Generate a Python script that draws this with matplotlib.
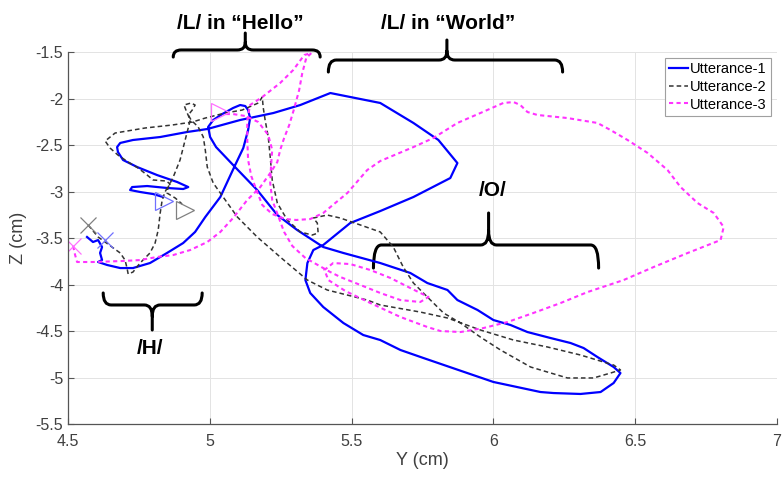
import matplotlib.pyplot as plt
from matplotlib.path import Path
from matplotlib.patches import PathPatch

plt.rcParams['font.family'] = ['Liberation Sans', 'DejaVu Sans']

# ------------------------------------------------------------------
# Tongue-tip trajectories (Y, Z in cm)
# ------------------------------------------------------------------
# Utterance-1 (blue, solid)
utt1_y = [4.567, 4.588, 4.606, 4.620, 4.613, 4.620, 4.606, 4.638, 4.684, 4.729,
          4.789, 4.849, 4.906, 4.948, 4.984, 5.037, 5.086, 5.118, 5.135, 5.142,
          5.135, 5.125, 5.107, 5.082, 5.044, 5.012, 4.994, 5.001, 5.022, 5.089,
          5.167, 5.238, 5.308, 5.400, 5.471, 5.601, 5.707, 5.767, 5.838, 5.873,
          5.944, 6.000, 6.060, 6.120, 6.201, 6.272, 6.318, 6.367, 6.424, 6.448,
          6.424, 6.378, 6.307, 6.212, 6.166, 6.000, 5.908, 5.753, 5.672, 5.601,
          5.541, 5.471, 5.400, 5.354, 5.337, 5.344, 5.365, 5.400, 5.495, 5.601,
          5.718, 5.848, 5.873, 5.806, 5.718, 5.601, 5.425, 5.319, 5.224, 5.107,
          4.991, 4.920, 4.825, 4.729, 4.684, 4.673, 4.676, 4.694, 4.744, 4.814,
          4.885, 4.924, 4.906, 4.849, 4.779, 4.726, 4.719, 4.754, 4.800, 4.835]
utt1_z = [-3.489, -3.543, -3.522, -3.597, -3.661, -3.737, -3.758, -3.790, -3.823, -3.823,
          -3.769, -3.661, -3.554, -3.435, -3.274, -3.059, -2.737, -2.532, -2.339, -2.210,
          -2.124, -2.081, -2.070, -2.102, -2.167, -2.231, -2.306, -2.414, -2.522, -2.737,
          -2.984, -3.253, -3.414, -3.597, -3.661, -3.769, -3.876, -3.984, -4.059, -4.167,
          -4.274, -4.382, -4.435, -4.511, -4.575, -4.629, -4.683, -4.780, -4.887, -4.952,
          -5.059, -5.156, -5.177, -5.167, -5.156, -5.048, -4.952, -4.790, -4.704, -4.597,
          -4.543, -4.414, -4.242, -4.091, -3.952, -3.769, -3.629, -3.575, -3.339, -3.210,
          -3.059, -2.855, -2.694, -2.446, -2.263, -2.048, -1.941, -2.070, -2.156, -2.231,
          -2.328, -2.360, -2.414, -2.446, -2.478, -2.522, -2.575, -2.661, -2.737, -2.823,
          -2.898, -2.952, -2.973, -2.962, -2.941, -2.952, -2.984, -3.005, -3.027, -3.059]

# Utterance-2 (black, dashed)
utt2_y = [4.571, 4.606, 4.655, 4.684, 4.701, 4.708, 4.712, 4.729, 4.754, 4.789,
          4.807, 4.818, 4.825, 4.832, 4.842, 4.853, 4.860, 4.846, 4.800, 4.779,
          4.747, 4.712, 4.676, 4.648, 4.631, 4.666, 4.772, 4.867, 4.938, 4.984,
          5.054, 5.114, 5.171, 5.185, 5.188, 5.195, 5.206, 5.213, 5.220, 5.238,
          5.273, 5.319, 5.361, 5.382, 5.379, 5.365, 5.414, 5.460, 5.531, 5.601,
          5.647, 5.682, 5.718, 5.767, 5.824, 5.884, 5.954, 6.025, 6.131, 6.261,
          6.353, 6.413, 6.448, 6.424, 6.307, 6.191, 6.071, 5.954, 5.838, 5.742,
          5.601, 5.555, 5.414, 5.344, 5.248, 5.167, 5.097, 5.047, 5.012, 4.991,
          4.984, 4.977, 4.959, 4.934, 4.924, 4.938, 4.948, 4.934, 4.909, 4.917,
          4.931, 4.913, 4.895, 4.871, 4.853, 4.849, 4.878, 4.902]
utt2_z = [-3.360, -3.489, -3.597, -3.661, -3.737, -3.823, -3.887, -3.866, -3.769, -3.661,
          -3.554, -3.414, -3.231, -3.091, -3.005, -2.941, -2.919, -2.887, -2.876, -2.823,
          -2.747, -2.683, -2.608, -2.532, -2.457, -2.371, -2.317, -2.285, -2.253, -2.210,
          -2.156, -2.124, -2.048, -1.984, -2.091, -2.231, -2.414, -2.629, -2.876, -3.124,
          -3.306, -3.435, -3.468, -3.446, -3.339, -3.285, -3.253, -3.285, -3.360, -3.435,
          -3.597, -3.812, -3.984, -4.134, -4.306, -4.414, -4.565, -4.704, -4.887, -5.005,
          -5.005, -4.952, -4.919, -4.866, -4.758, -4.672, -4.597, -4.489, -4.360, -4.296,
          -4.220, -4.167, -4.059, -3.952, -3.704, -3.489, -3.274, -3.059, -2.909, -2.737,
          -2.554, -2.414, -2.306, -2.231, -2.177, -2.124, -2.070, -2.048, -2.070, -2.134,
          -2.231, -2.446, -2.661, -2.844, -2.952, -3.016, -3.070, -3.134]

# Utterance-3 (magenta, dotted)
utt3_y = [4.518, 4.525, 4.532, 4.588, 4.694, 4.754, 4.814, 4.871, 4.931, 4.991,
          5.037, 5.082, 5.132, 5.178, 5.213, 5.238, 5.248, 5.262, 5.280, 5.298,
          5.315, 5.326, 5.340, 5.358, 5.333, 5.294, 5.248, 5.185, 5.142, 5.132,
          5.132, 5.135, 5.146, 5.167, 5.185, 5.220, 5.266, 5.305, 5.354, 5.400,
          5.442, 5.485, 5.555, 5.601, 5.718, 5.788, 5.873, 5.954, 6.035, 6.071,
          6.095, 6.120, 6.155, 6.261, 6.367, 6.413, 6.473, 6.544, 6.614, 6.660,
          6.720, 6.777, 6.812, 6.801, 6.685, 6.565, 6.459, 6.332, 6.237, 6.141,
          6.050, 5.965, 5.884, 5.813, 5.767, 5.672, 5.566, 5.478, 5.418, 5.404,
          5.435, 5.495, 5.566, 5.637, 5.707, 5.771, 5.742, 5.672, 5.601, 5.531,
          5.460, 5.425, 5.337, 5.291, 5.262, 5.241, 5.220, 5.213, 5.216, 5.220,
          5.206, 5.171, 5.125, 5.082, 5.044]
utt3_z = [-3.586, -3.683, -3.758, -3.758, -3.747, -3.737, -3.704, -3.683, -3.629, -3.543,
          -3.435, -3.285, -3.091, -2.952, -2.801, -2.683, -2.554, -2.425, -2.285, -2.102,
          -1.909, -1.726, -1.565, -1.511, -1.532, -1.694, -1.833, -1.984, -2.070, -2.231,
          -2.446, -2.661, -2.833, -3.005, -3.145, -3.242, -3.296, -3.306, -3.296, -3.231,
          -3.124, -3.016, -2.769, -2.672, -2.522, -2.425, -2.263, -2.156, -2.048, -2.038,
          -2.070, -2.145, -2.177, -2.210, -2.263, -2.339, -2.446, -2.586, -2.769, -2.952,
          -3.124, -3.231, -3.382, -3.522, -3.661, -3.812, -3.952, -4.081, -4.199, -4.306,
          -4.403, -4.468, -4.511, -4.500, -4.457, -4.349, -4.199, -4.070, -3.952, -3.844,
          -3.769, -3.780, -3.844, -3.930, -4.038, -4.134, -4.188, -4.167, -4.091, -4.005,
          -3.919, -3.866, -3.715, -3.586, -3.435, -3.263, -3.091, -2.909, -2.715, -2.554,
          -2.392, -2.253, -2.188, -2.167, -2.167]

labels = ["Utterance-1", "Utterance-2", "Utterance-3"]

# start ('x') and end ('>') markers of each utterance
start_y = [4.631, 4.571, 4.518]
start_z = [-3.522, -3.360, -3.586]
end_y = [4.839, 4.913, 5.037]
end_z = [-3.102, -3.199, -2.145]
marker_colors = ["#7070ff", "#808080", "#ff70ff"]

# phoneme annotations: label, text position, brace (x0, x1, tip_x, line_z, end_z, tip_z)
phonemes = [
    ("/L/ in \u201cHello\u201d", (5.107, -1.19), (4.871, 5.389, 5.125, -1.478, -1.554, -1.296)),
    ("/L/ in \u201cWorld\u201d", (5.841, -1.19), (5.418, 6.244, 5.836, -1.586, -1.715, -1.371)),
    ("/O/", (5.997, -2.984), (5.577, 6.371, 5.983, -3.575, -3.823, -3.231)),
    ("/H/", (4.789, -4.683), (4.624, 4.973, 4.797, -4.220, -4.091, -4.489)),
]


def draw_brace(ax, x0, x1, xt, zl, ze, zt, rx=0.028):
    """Curly brace along z=zl from x0 to x1, legs bent to ze, tip at (xt, zt)."""
    zm = zl + (zt - zl) * 0.45
    P = Path
    verts = [(x0, ze), (x0, zl), (x0 + rx, zl),
             (xt - rx, zl), (xt, zl), (xt, zm), (xt, zt),
             (xt, zm), (xt, zl), (xt + rx, zl),
             (x1 - rx, zl), (x1, zl), (x1, ze)]
    codes = [P.MOVETO, P.CURVE3, P.CURVE3,
             P.LINETO, P.CURVE3, P.CURVE3, P.LINETO,
             P.MOVETO, P.CURVE3, P.CURVE3,
             P.LINETO, P.CURVE3, P.CURVE3]
    ax.add_patch(PathPatch(Path(verts, codes), fill=False, lw=2.2, color="black",
                           capstyle="round", joinstyle="round", clip_on=False))


fig = plt.figure(figsize=(7.82, 4.79), dpi=100)
ax = fig.add_axes([0.087, 0.1148, 0.9066, 0.7766])

ax.plot(utt1_y, utt1_z, color="#0000ff", lw=1.6, label=labels[0])
ax.plot(utt2_y, utt2_z, color="#333333", lw=1.1, ls=(0, (3, 2)), label=labels[1])
ax.plot(utt3_y, utt3_z, color="#ff33ff", lw=1.5, ls=(0, (2, 1.6)), label=labels[2])

for i in range(3):
    ax.plot(start_y[i], start_z[i], marker="x", ms=11, mew=0.9,
            color=marker_colors[i], ls="none")
    ax.plot(end_y[i], end_z[i], marker=">", ms=13, mew=0.9, mfc="none",
            mec=marker_colors[i], ls="none")

for text, (tx, tz), br in phonemes:
    draw_brace(ax, *br)
    ax.text(tx, tz, text, ha="center", va="center", fontsize=15,
            fontweight="bold", clip_on=False)

ax.set_xlim(4.5, 7)
ax.set_ylim(-5.5, -1.5)
ax.set_xticks([4.5, 5, 5.5, 6, 6.5, 7])
ax.set_xticklabels(["4.5", "5", "5.5", "6", "6.5", "7"])
ax.set_yticks([-5.5, -5, -4.5, -4, -3.5, -3, -2.5, -2, -1.5])
ax.set_yticklabels(["-5.5", "-5", "-4.5", "-4", "-3.5", "-3", "-2.5", "-2", "-1.5"])
ax.grid(True, color="#e3e3e3", lw=0.7)
ax.set_axisbelow(True)
for side in ["top", "right"]:
    ax.spines[side].set_visible(False)
for side in ["left", "bottom"]:
    ax.spines[side].set_color("#555555")
    ax.spines[side].set_linewidth(0.9)
ax.tick_params(direction="in", length=4, colors="#555555", labelcolor="#404040",
               labelsize=11.5)
ax.tick_params(axis="x", pad=7)
ax.set_xlabel("Y (cm)", fontsize=13, color="#404040", labelpad=2)
ax.set_ylabel("Z (cm)", fontsize=13, color="#404040", labelpad=6)

leg = ax.legend(loc="upper right", fontsize=10.5, handlelength=1.3, handletextpad=0.15,
                labelspacing=0.25, borderpad=0.3, borderaxespad=0.4, fancybox=False,
                framealpha=1, edgecolor="#a0a0a0")
leg.get_frame().set_linewidth(0.8)

fig.savefig("out.png", dpi=100)
